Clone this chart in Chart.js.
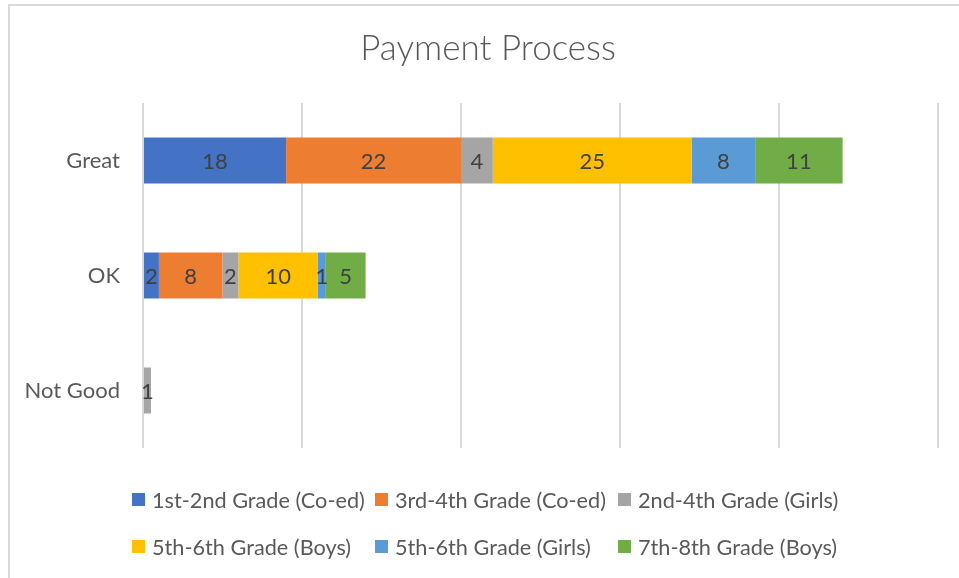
<!DOCTYPE html>
<html>
<head>
<meta charset="utf-8">
<script src="https://cdn.jsdelivr.net/npm/chart.js@4/dist/chart.umd.min.js"></script>
<style>
  html, body { margin:0; padding:0; background:#fff; overflow:hidden; width:959px; height:578px; }
  #frame { position:absolute; left:8px; top:4px; width:980px; height:600px; border-left:2px solid #d9d9d9; border-top:2px solid #d9d9d9; }
  #wrap { position:absolute; left:0; top:0; width:976px; height:578px; }
  #legend { position:absolute; left:132px; top:476px; display:grid; grid-template-columns:243px 243px auto; grid-auto-rows:47px; font-family:Lato, sans-serif; font-size:21.7px; color:#595959; }
  .item { display:flex; align-items:center; white-space:nowrap; }
  .box { width:13px; height:13px; margin-right:7px; flex:none; }
</style>
</head>
<body>
<div id="frame"></div>
<div id="wrap"><canvas id="c" width="976" height="578"></canvas></div>
<div id="legend"></div>
<script>
const categories = ["Great", "OK", "Not Good"];
const seriesNames = ["1st-2nd Grade (Co-ed)", "3rd-4th Grade (Co-ed)", "2nd-4th Grade (Girls)", "5th-6th Grade (Boys)", "5th-6th Grade (Girls)", "7th-8th Grade (Boys)"];
const grade12CoEd = [18, 2, 0];
const grade34CoEd = [22, 8, 0];
const grade24Girls = [4, 2, 1];
const grade56Boys = [25, 10, 0];
const grade56Girls = [8, 1, 0];
const grade78Boys = [11, 5, 0];
const xTicks = [0, 20, 40, 60, 80, 100];
const colors = ["#4472C4", "#ED7D31", "#A5A5A5", "#FFC000", "#5B9BD5", "#70AD47"];

const seriesValues = [grade12CoEd, grade34CoEd, grade24Girls, grade56Boys, grade56Girls, grade78Boys];
const datasets = seriesValues.map((vals, i) => ({
  label: seriesNames[i],
  data: vals,
  backgroundColor: colors[i],
  borderWidth: 0,
  categoryPercentage: 1.0,
  barPercentage: 0.4
}));

const valueLabels = {
  id: 'valueLabels',
  beforeDraw(chart) {
    // let the category labels extend past the layout padding (no clipping)
    chart.scales.y._computeLabelArea = () => undefined;
  },
  afterDatasetsDraw(chart) {
    const ctx = chart.ctx;
    ctx.save();
    ctx.font = '22px Lato, sans-serif';
    ctx.fillStyle = '#404040';
    ctx.textAlign = 'center';
    ctx.textBaseline = 'middle';
    chart.data.datasets.forEach((ds, di) => {
      const meta = chart.getDatasetMeta(di);
      meta.data.forEach((bar, i) => {
        const v = ds.data[i];
        if (!v) return;
        const cx = (bar.x + bar.base) / 2;
        ctx.fillText(String(v), cx, bar.y + 1);
      });
    });
    ctx.restore();
  }
};

const chart = new Chart(document.getElementById('c'), {
  type: 'bar',
  data: { labels: categories, datasets },
  options: {
    indexAxis: 'y',
    responsive: false,
    animation: false,
    layout: { padding: { left: 38, right: 38, top: 0, bottom: 130 } },
    plugins: {
      legend: { display: false },
      tooltip: { enabled: false },
      title: {
        display: true,
        text: 'Payment Process',
        color: '#595959',
        font: { family: 'Lato', size: 35, weight: '300', lineHeight: 1.2 },
        padding: { top: 28, bottom: 33 }
      }
    },
    scales: {
      x: {
        stacked: true,
        min: 0,
        max: 100,
        afterBuildTicks: (s) => { s.ticks = xTicks.map(v => ({ value: v })); },
        ticks: { display: false },
        grid: { color: '#d9d9d9', lineWidth: 2, drawTicks: false },
        border: { display: false },
        afterFit: (s) => { s.height = 0; }
      },
      y: {
        stacked: true,
        grid: { display: false, drawTicks: false },
        border: { display: false },
        ticks: { color: '#595959', font: { family: 'Lato', size: 22 }, padding: 23 },
        afterFit: (s) => { s.width = 105; }
      }
    }
  },
  plugins: [valueLabels]
});
chart.draw();

// HTML legend built from the chart's datasets
const legend = document.getElementById('legend');
chart.data.datasets.forEach(ds => {
  const it = document.createElement('div');
  it.className = 'item';
  const b = document.createElement('span');
  b.className = 'box';
  b.style.background = ds.backgroundColor;
  const t = document.createElement('span');
  t.textContent = ds.label;
  it.appendChild(b); it.appendChild(t);
  legend.appendChild(it);
});
</script>
</body>
</html>
